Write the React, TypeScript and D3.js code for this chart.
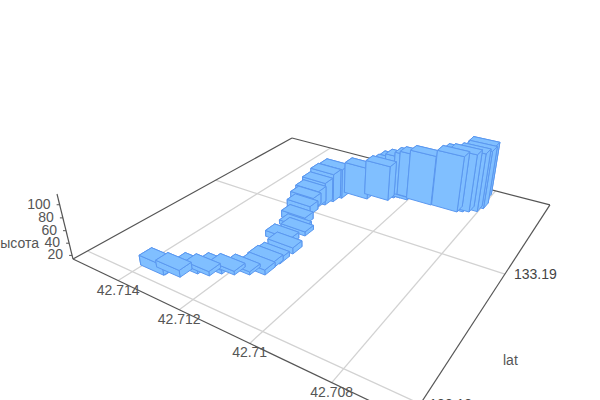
import * as d3 from 'd3';

const lats = [42.71365,42.71363,42.71326,42.713,42.71271,42.71251,42.71223,42.71192,42.71161,42.71162,42.71159,42.71158,42.71189,42.71181,42.71197,42.71214,42.71233,42.71245,42.7124,42.71229,42.7122,42.7121,42.71144,42.71088,42.7108,42.71065,42.71042,42.71019,42.71004,42.70969,42.70889,42.70875,42.7086,42.70841,42.70832,42.70843];
const lons = [133.18105,133.1811,133.18137,133.18205,133.18224,133.1827,133.18298,133.1834,133.18381,133.18452,133.18499,133.18611,133.18673,133.18793,133.18822,133.18891,133.19001,133.19072,133.19112,133.19151,133.19214,133.1928,133.19357,133.19411,133.1946,133.1948,133.19481,133.19511,133.19516,133.19502,133.19507,133.19527,133.19546,133.19577,133.19632,133.19755];
const heights = [30,20,25,20,21,20,20,19,22,23,22,24,24,21,21,26,29,33,41,53,63,66,69,75,74,80,86,89,92,100,110,113,113,114,114,108];

const latTicks = [42.714, 42.712, 42.71, 42.708];
const lonTicks = [133.19, 133.18];
const heightTicks = [20, 40, 60, 80, 100];

const latScale = d3.scaleLinear().domain([42.71567, 42.70636]).range([0, 1]);
const lonScale = d3.scaleLinear().domain([133.1791, 133.19856]).range([0, 1]);
const heightScale = d3.scaleLinear().domain([14, 116]).range([0, 1]);

const barU = 0.085;
const barV = 0.043;

// ground plane homography plus the vertical vanishing point, fitted by eye
function project(u: number, v: number, z: number): [number, number] {
  const t = -0.0615 * z;
  const w = 1 - 0.2923 * u + 0.4648 * v + t;
  const x = 217.1 * u + 354.7 * v + 73 + 317 * t;
  const y = 38.2 * u - 56.9 * v + 259 + 1251 * t;
  return [x / w, y / w];
}
const depth = (u: number, v: number) => 1 - 0.2923 * u + 0.4648 * v;

const poly = d3.line().curve(d3.curveLinearClosed);
const font = 'Liberation Sans, Arial, sans-serif';

function Bar({ lat, lon, height }: { lat: number; lon: number; height: number }) {
  const u0 = latScale(lat) - barU / 2;
  const u1 = u0 + barU;
  const v0 = lonScale(lon) - barV / 2;
  const v1 = v0 + barV;
  const z = heightScale(height);
  const side = (a: [number, number], b: [number, number]) =>
    poly([project(a[0], a[1], 0), project(b[0], b[1], 0), project(b[0], b[1], z), project(a[0], a[1], z)]) as string;
  const faces = [
    side([u0, v1], [u1, v1]),
    side([u0, v0], [u0, v1]),
    side([u1, v0], [u1, v1]),
    side([u0, v0], [u1, v0]),
    poly([project(u0, v0, z), project(u1, v0, z), project(u1, v1, z), project(u0, v1, z)]) as string,
  ];
  return (
    <g>
      {faces.map((d, i) => (
        <path key={i} d={d} fill="#80bfff" stroke="#5b98f0" strokeWidth={1} strokeLinejoin="round" />
      ))}
    </g>
  );
}

export default function App() {
  const order = d3.range(lats.length).sort((a, b) =>
    d3.descending(depth(latScale(lats[a]), lonScale(lons[a])), depth(latScale(lats[b]), lonScale(lons[b]))),
  );
  const seg = (a: [number, number], b: [number, number]) => ({ x1: a[0], y1: a[1], x2: b[0], y2: b[1] });
  const edges = [
    seg(project(0, 0, 0), project(0, 1, 0)),
    seg(project(0, 1, 0), project(1, 1, 0)),
    seg(project(1, 1, 0), project(1, 0, 0)),
    seg(project(1, 0, 0), project(0, 0, 0)),
    seg(project(0, 0, 0), project(0, 0, 1)),
  ];
  return (
    <svg width={600} height={400} style={{ position: 'absolute', left: 0, top: 0 }}>
      {latTicks.map(t => (
        <line key={t} {...seg(project(latScale(t), 0, 0), project(latScale(t), 1, 0))} stroke="#d2d2d2" strokeWidth={1.3} />
      ))}
      {lonTicks.map(t => (
        <line key={t} {...seg(project(0, lonScale(t), 0), project(1, lonScale(t), 0))} stroke="#d2d2d2" strokeWidth={1.3} />
      ))}
      {edges.map((e, i) => (
        <line key={i} {...e} stroke="#555" strokeWidth={1.2} />
      ))}
      {heightTicks.map(t => {
        const [x, y] = project(0, 0, heightScale(t));
        return <line key={t} x1={x - 3} y1={y} x2={x} y2={y} stroke="#555" />;
      })}
      {order.map(i => (
        <Bar key={i} lat={lats[i]} lon={lons[i]} height={heights[i]} />
      ))}
      <g fontFamily={font} fontSize={14} fill="#555">
        {latTicks.map(t => {
          const [x, y] = project(latScale(t), 0, 0);
          return (
            <text key={t} x={x} y={y + 14} textAnchor="middle">
              {t}
            </text>
          );
        })}
        {lonTicks.map(t => {
          const [x, y] = project(1, lonScale(t), 0);
          return (
            <text key={t} x={x + 9} y={y + 5} fill="#444">
              {t}
            </text>
          );
        })}
        {heightTicks.map(t => {
          const [x, y] = project(0, 0, heightScale(t));
          return (
            <text key={t} x={x - 9} y={y + 4} textAnchor="end">
              {t}
            </text>
          );
        })}
        <text x={39} y={248} textAnchor="end">высота</text>
        <text x={503} y={365}>lat</text>
      </g>
    </svg>
  );
}
